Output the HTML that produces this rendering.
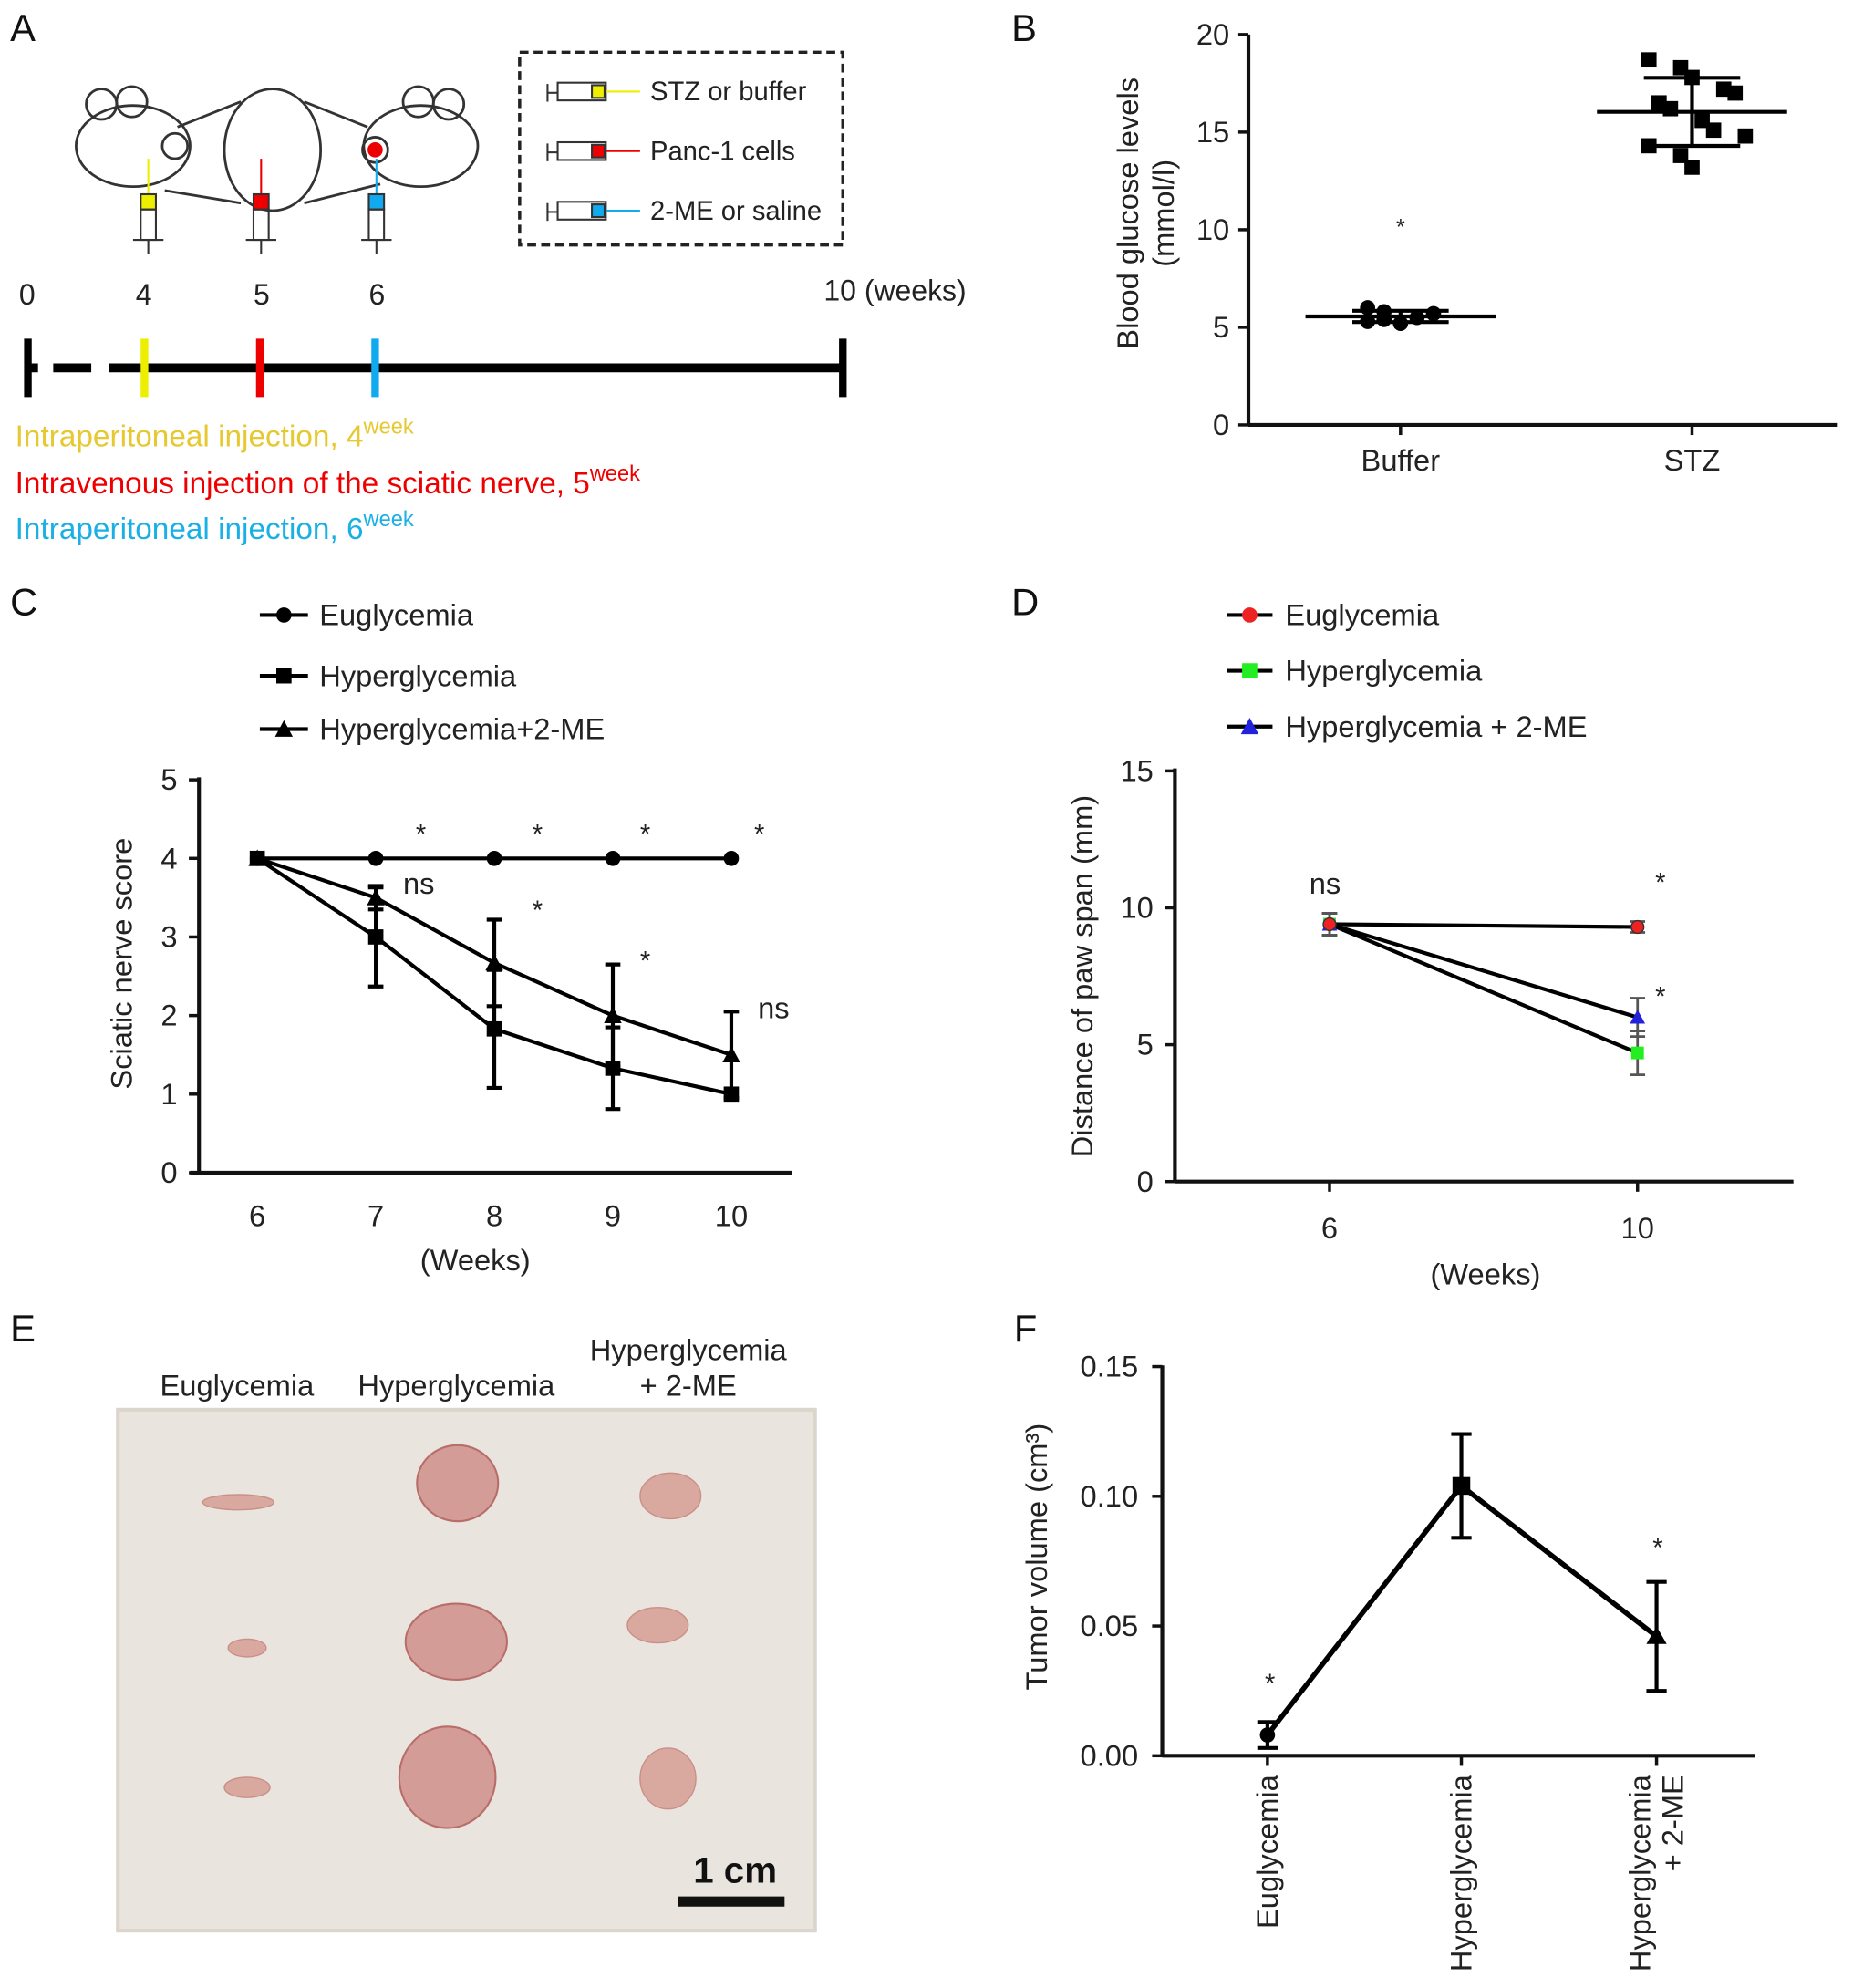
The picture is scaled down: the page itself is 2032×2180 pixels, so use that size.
<!DOCTYPE html>
<html><head><meta charset="utf-8">
<style>
html,body{margin:0;padding:0;background:#fff;}
svg{display:block;font-family:"Liberation Sans",Arial,sans-serif;}
</style></head>
<body>
<svg id="fig" width="2032" height="2180" viewBox="0 0 1462 1568" xmlns="http://www.w3.org/2000/svg">
<rect width="1462" height="1568" fill="#fff"/>
<g font-size="30" fill="#111">
<text x="8" y="32">A</text><text x="798" y="32">B</text>
<text x="8" y="485">C</text><text x="798" y="485">D</text>
<text x="8" y="1058">E</text><text x="800" y="1058">F</text>
</g>

<g stroke="#333" stroke-width="2" fill="none">
 <ellipse cx="105" cy="115" rx="45" ry="32"/><circle cx="80" cy="82" r="12"/><circle cx="104" cy="80" r="12"/>
 <ellipse cx="332" cy="115" rx="45" ry="32"/><circle cx="330" cy="80" r="12"/><circle cx="354" cy="82" r="12"/>
 <ellipse cx="215" cy="118" rx="38" ry="48"/>
 <circle cx="138" cy="115" r="10"/><circle cx="296" cy="118" r="10"/>
 <line x1="140" y1="100" x2="190" y2="80"/><line x1="240" y1="80" x2="290" y2="100"/>
 <line x1="130" y1="150" x2="190" y2="160"/><line x1="240" y1="160" x2="300" y2="145"/>
</g>
<circle cx="296" cy="118" r="6" fill="#e00"/>
<g stroke="#333" stroke-width="1.5">
 <line x1="117" y1="125" x2="117" y2="153" stroke="#ee0"/><rect x="111" y="153" width="12" height="12" fill="#ee0"/><rect x="111" y="165" width="12" height="24" fill="none"/><line x1="105" y1="189" x2="129" y2="189"/><line x1="117" y1="189" x2="117" y2="200"/>
 <line x1="206" y1="125" x2="206" y2="153" stroke="#e00"/><rect x="200" y="153" width="12" height="12" fill="#e00"/><rect x="200" y="165" width="12" height="24" fill="none"/><line x1="194" y1="189" x2="218" y2="189"/><line x1="206" y1="189" x2="206" y2="200"/>
 <line x1="297" y1="125" x2="297" y2="153" stroke="#1ae"/><rect x="291" y="153" width="12" height="12" fill="#1ae"/><rect x="291" y="165" width="12" height="24" fill="none"/><line x1="285" y1="189" x2="309" y2="189"/><line x1="297" y1="189" x2="297" y2="200"/>
</g>
<g>
 <rect x="410" y="41" width="255" height="152" fill="none" stroke="#222" stroke-width="2.5" stroke-dasharray="7,4"/>
 <g stroke="#333" stroke-width="1.5">
  <line x1="432" y1="66" x2="432" y2="80"/><line x1="432" y1="73" x2="440" y2="73"/><rect x="440" y="65" width="38" height="14" fill="none"/><rect x="467" y="67" width="10" height="10" fill="#ee0"/><line x1="478" y1="72" x2="505" y2="72" stroke="#ee0"/>
  <line x1="432" y1="113" x2="432" y2="127"/><line x1="432" y1="120" x2="440" y2="120"/><rect x="440" y="112" width="38" height="14" fill="none"/><rect x="467" y="114" width="10" height="10" fill="#e00"/><line x1="478" y1="119" x2="505" y2="119" stroke="#e00"/>
  <line x1="432" y1="160" x2="432" y2="174"/><line x1="432" y1="167" x2="440" y2="167"/><rect x="440" y="159" width="38" height="14" fill="none"/><rect x="467" y="161" width="10" height="10" fill="#1ae"/><line x1="478" y1="166" x2="505" y2="166" stroke="#1ae"/>
 </g>
 <g font-size="21" fill="#222"><text x="513" y="79">STZ or buffer</text><text x="513" y="126">Panc-1 cells</text><text x="513" y="173">2-ME or saline</text></g>
</g>
<g>
 <g font-size="23" fill="#222"><text x="15" y="240">0</text><text x="107" y="240">4</text><text x="200" y="240">5</text><text x="291" y="240">6</text><text x="650" y="237">10 (weeks)</text></g>
 <line x1="22" y1="290" x2="665" y2="290" stroke="#000" stroke-width="7"/>
 <line x1="30" y1="290" x2="42" y2="290" stroke="#fff" stroke-width="9"/>
 <line x1="72" y1="290" x2="86" y2="290" stroke="#fff" stroke-width="9"/>
 <line x1="22" y1="267" x2="22" y2="313" stroke="#000" stroke-width="6"/>
 <line x1="665" y1="267" x2="665" y2="313" stroke="#000" stroke-width="6"/>
 <line x1="114" y1="267" x2="114" y2="313" stroke="#ee0" stroke-width="6"/>
 <line x1="205" y1="267" x2="205" y2="313" stroke="#e00" stroke-width="6"/>
 <line x1="296" y1="267" x2="296" y2="313" stroke="#1ae" stroke-width="6"/>
 <g font-size="24">
  <text x="12" y="352" fill="#e6c830">Intraperitoneal injection, 4<tspan font-size="17" dy="-10">week</tspan></text>
  <text x="12" y="389" fill="#e00">Intravenous injection of the sciatic nerve, 5<tspan font-size="17" dy="-10">week</tspan></text>
  <text x="12" y="425" fill="#1ab0e6">Intraperitoneal injection, 6<tspan font-size="17" dy="-10">week</tspan></text>
 </g>
</g>

<g id="pb"></g>
<g id="pc"></g>
<g id="pd"></g>
<g id="pf"></g>

<g>
 <g font-size="23.5" fill="#222" text-anchor="middle"><text x="187" y="1101">Euglycemia</text><text x="360" y="1101">Hyperglycemia</text><text x="543" y="1073">Hyperglycemia</text><text x="543" y="1101">+ 2-ME</text></g>
 <rect x="93" y="1112" width="550" height="411" fill="#e9e4dd"/>
 <rect x="93" y="1112" width="550" height="411" fill="none" stroke="#dcd5cc" stroke-width="3"/>
 <g fill="#d9a9a0" stroke="#c98f88" stroke-width="1">
  <ellipse cx="188" cy="1185" rx="28" ry="6"/><ellipse cx="195" cy="1300" rx="15" ry="7"/><ellipse cx="195" cy="1410" rx="18" ry="8"/>
  <ellipse cx="529" cy="1180" rx="24" ry="18"/><ellipse cx="519" cy="1282" rx="24" ry="14"/><ellipse cx="527" cy="1403" rx="22" ry="24"/>
 </g>
 <g fill="#d49c97" stroke="#b86d6a" stroke-width="1.5">
  <ellipse cx="361" cy="1170" rx="32" ry="30"/><ellipse cx="360" cy="1295" rx="40" ry="30"/><ellipse cx="353" cy="1402" rx="38" ry="40"/>
 </g>
 <text x="580" y="1485" font-size="29" font-weight="bold" text-anchor="middle" fill="#111">1 cm</text>
 <line x1="535" y1="1500" x2="619" y2="1500" stroke="#111" stroke-width="8"/>
</g>

<script>
const NS="http://www.w3.org/2000/svg";
function el(p,t,a){const e=document.createElementNS(NS,t);for(const k in a)e.setAttribute(k,a[k]);p.appendChild(e);return e;}
function txt(p,x,y,s,o){const e=el(p,'text',Object.assign({x:x,y:y,'font-size':23.5,fill:'#222'},o||{}));e.textContent=s;return e;}

// ---------- Panel B data ----------
const bCats=["Buffer","STZ"];
const bBuffer=[6.0,5.4,5.2,5.5,5.7,5.3,5.8];
const bSTZ=[18.7,18.3,17.8,17.2,17.0,16.5,16.2,15.6,15.1,14.8,14.3,13.8,13.2];
const bTicks=[0,5,10,15,20];
{
 const g=document.getElementById('pb');
 const y=v=>335-v*15.4, xs=[1105,1335];
 el(g,'line',{x1:985,y1:27,x2:985,y2:335,stroke:'#111','stroke-width':3});
 el(g,'line',{x1:985,y1:335,x2:1450,y2:335,stroke:'#111','stroke-width':3});
 bTicks.forEach(t=>{el(g,'line',{x1:977,y1:y(t),x2:985,y2:y(t),stroke:'#111','stroke-width':2.5});txt(g,970,y(t)+8,String(t),{'text-anchor':'end'});});
 bCats.forEach((c,i)=>{el(g,'line',{x1:xs[i],y1:335,x2:xs[i],y2:343,stroke:'#111','stroke-width':2.5});txt(g,xs[i],371,c,{'text-anchor':'middle'});});
 txt(g,898,168,'Blood glucose levels',{'text-anchor':'middle',transform:'rotate(-90 898 168)'});
 txt(g,926,168,'(mmol/l)',{'text-anchor':'middle',transform:'rotate(-90 926 168)'});
 [bBuffer,bSTZ].forEach((arr,i)=>{
  const m=arr.reduce((a,b)=>a+b)/arr.length;const sd=Math.sqrt(arr.reduce((a,b)=>a+(b-m)*(b-m),0)/(arr.length-1));
  arr.forEach((v,j)=>{const dx=((j%5)-2)*(i===0?13:17);
   const e=i===0?el(g,'circle',{cx:xs[i]+dx,cy:y(v),r:6,fill:'#000'}):el(g,'rect',{x:xs[i]+dx-6+((j%2)*8),y:y(v)-6,width:12,height:12,fill:'#000'});
   
   });
  el(g,'line',{x1:xs[i]-75,y1:y(m),x2:xs[i]+75,y2:y(m),stroke:'#000','stroke-width':3});
  el(g,'line',{x1:xs[i],y1:y(m-sd),x2:xs[i],y2:y(m+sd),stroke:'#000','stroke-width':3});
  el(g,'line',{x1:xs[i]-38,y1:y(m-sd),x2:xs[i]+38,y2:y(m-sd),stroke:'#000','stroke-width':3});
  el(g,'line',{x1:xs[i]-38,y1:y(m+sd),x2:xs[i]+38,y2:y(m+sd),stroke:'#000','stroke-width':3});
 });
 txt(g,1105,185,'*',{'text-anchor':'middle','font-size':18});
}

// ---------- Panel C data ----------
const cWeeks=[6,7,8,9,10];
const cEu=[4,4,4,4,4];
const cHyper=[4,3,1.83,1.33,1.0];
const cHyperErr=[0,0.63,0.75,0.52,0];
const cHME=[4,3.5,2.67,2.0,1.5];
const cHMEErr=[0,0.15,0.55,0.65,0.55];
const cTicks=[0,1,2,3,4,5];
{
 const g=document.getElementById('pc');
 const x=w=>203+(w-6)*93.5, y=v=>925-v*62;
 el(g,'line',{x1:157,y1:613,x2:157,y2:925,stroke:'#111','stroke-width':3});
 el(g,'line',{x1:150,y1:925,x2:625,y2:925,stroke:'#111','stroke-width':3});
 cTicks.forEach(t=>{el(g,'line',{x1:149,y1:y(t),x2:157,y2:y(t),stroke:'#111','stroke-width':2.5});txt(g,140,y(t)+8,String(t),{'text-anchor':'end'});});
 cWeeks.forEach(w=>{txt(g,x(w),967,String(w),{'text-anchor':'middle'});});
 txt(g,375,1002,'(Weeks)',{'text-anchor':'middle'});
 txt(g,104,760,'Sciatic nerve score',{'text-anchor':'middle',transform:'rotate(-90 104 760)'});
 function series(vals,err,shape){
  const pts=vals.map((v,i)=>x(cWeeks[i])+','+y(v)).join(' ');
  el(g,'polyline',{points:pts,fill:'none',stroke:'#000','stroke-width':3});
  vals.forEach((v,i)=>{const cx=x(cWeeks[i]),cy=y(v);
   if(err&&err[i]>0){el(g,'line',{x1:cx,y1:y(v-err[i]),x2:cx,y2:y(v+err[i]),stroke:'#000','stroke-width':3});
    [v-err[i],v+err[i]].forEach(e=>el(g,'line',{x1:cx-6,y1:y(e),x2:cx+6,y2:y(e),stroke:'#000','stroke-width':3}));}
   let m;
   if(shape==='c')m=el(g,'circle',{cx:cx,cy:cy,r:6,fill:'#000'});
   else if(shape==='s')m=el(g,'rect',{x:cx-6,y:cy-6,width:12,height:12,fill:'#000'});
   else m=el(g,'polygon',{points:`${cx},${cy-7} ${cx-7},${cy+6} ${cx+7},${cy+6}`,fill:'#000'});
   
   });
 }
 series(cHME,cHMEErr,'t');series(cHyper,cHyperErr,'s');series(cEu,null,'c');
 [[328,665,'*'],[420,665,'*'],[505,665,'*'],[595,665,'*'],[318,705,'ns'],[420,725,'*'],[505,765,'*'],[598,803,'ns']].forEach(a=>txt(g,a[0],a[1],a[2],{'font-size':a[2]==='*'?21:23.5}));
 const L=[['Euglycemia','c',493],['Hyperglycemia','s',541],['Hyperglycemia+2-ME','t',583]];
 L.forEach(l=>{el(g,'line',{x1:205,y1:l[2]-8,x2:243,y2:l[2]-8,stroke:'#000','stroke-width':3});
  const cx=224,cy=l[2]-8;
  if(l[1]==='c')el(g,'circle',{cx:cx,cy:cy,r:6,fill:'#000'});else if(l[1]==='s')el(g,'rect',{x:cx-6,y:cy-6,width:12,height:12,fill:'#000'});else el(g,'polygon',{points:`${cx},${cy-7} ${cx-7},${cy+6} ${cx+7},${cy+6}`,fill:'#000'});
  txt(g,252,l[2],l[0]);});
}

// ---------- Panel D data ----------
const dWeeks=[6,10];
const dEu=[9.4,9.3];
const dHyper=[9.4,4.7];
const dHyperErr=[0.4,0.8];
const dHME=[9.4,6.0];
const dHMEErr=[0.4,0.7];
const dTicks=[0,5,10,15];
{
 const g=document.getElementById('pd');
 const x=w=>1049+(w-6)*60.75, y=v=>932-v*21.6;
 el(g,'line',{x1:927,y1:606,x2:927,y2:932,stroke:'#111','stroke-width':3});
 el(g,'line',{x1:927,y1:932,x2:1415,y2:932,stroke:'#111','stroke-width':3});
 dTicks.forEach(t=>{el(g,'line',{x1:919,y1:y(t),x2:927,y2:y(t),stroke:'#111','stroke-width':2.5});txt(g,910,y(t)+8,String(t),{'text-anchor':'end'});});
 dWeeks.forEach(w=>{el(g,'line',{x1:x(w),y1:932,x2:x(w),y2:940,stroke:'#111','stroke-width':2.5});txt(g,x(w),977,String(w),{'text-anchor':'middle'});});
 txt(g,1172,1013,'(Weeks)',{'text-anchor':'middle'});
 txt(g,862,770,'Distance of paw span (mm)',{'text-anchor':'middle',transform:'rotate(-90 862 770)'});
 function series(vals,err,shape,col){
  el(g,'polyline',{points:vals.map((v,i)=>x(dWeeks[i])+','+y(v)).join(' '),fill:'none',stroke:'#000','stroke-width':3});
  vals.forEach((v,i)=>{const cx=x(dWeeks[i]),cy=y(v);
   if(err&&err[i]>0){el(g,'line',{x1:cx,y1:y(v-err[i]),x2:cx,y2:y(v+err[i]),stroke:'#555','stroke-width':2});
    [v-err[i],v+err[i]].forEach(e=>el(g,'line',{x1:cx-6,y1:y(e),x2:cx+6,y2:y(e),stroke:'#555','stroke-width':2}));}
   let m;
   if(shape==='c')m=el(g,'circle',{cx:cx,cy:cy,r:5,fill:col,stroke:'#333'});
   else if(shape==='s')m=el(g,'rect',{x:cx-5,y:cy-5,width:10,height:10,fill:col});
   else m=el(g,'polygon',{points:`${cx},${cy-6} ${cx-6},${cy+5} ${cx+6},${cy+5}`,fill:col});
   
   });
 }
 series(dHyper,dHyperErr,'s','#2e2');series(dHME,dHMEErr,'t','#22d');series(dEu,[0.4,0.2],'c','#e22');
 txt(g,1033,705,'ns');txt(g,1306,703,'*',{'font-size':21});txt(g,1306,793,'*',{'font-size':21});
 const L=[['Euglycemia','c',493,'#e22'],['Hyperglycemia','s',537,'#2e2'],['Hyperglycemia + 2-ME','t',581,'#22d']];
 L.forEach(l=>{el(g,'line',{x1:968,y1:l[2]-8,x2:1004,y2:l[2]-8,stroke:'#000','stroke-width':3});
  const cx=986,cy=l[2]-8;
  if(l[1]==='c')el(g,'circle',{cx:cx,cy:cy,r:6,fill:l[3]});else if(l[1]==='s')el(g,'rect',{x:cx-6,y:cy-6,width:12,height:12,fill:l[3]});else el(g,'polygon',{points:`${cx},${cy-7} ${cx-7},${cy+6} ${cx+7},${cy+6}`,fill:l[3]});
  txt(g,1014,l[2],l[0]);});
}

// ---------- Panel F data ----------
const fCats=["Euglycemia","Hyperglycemia","Hyperglycemia\n+ 2-ME"];
const fVals=[0.008,0.104,0.046];
const fErr=[0.005,0.02,0.021];
const fTicks=["0.00","0.05","0.10","0.15"];
{
 const g=document.getElementById('pf');
 const xs=[1000,1153,1307], y=v=>1385-v*2047;
 el(g,'line',{x1:917,y1:1077,x2:917,y2:1385,stroke:'#111','stroke-width':3});
 el(g,'line',{x1:917,y1:1385,x2:1385,y2:1385,stroke:'#111','stroke-width':3});
 fTicks.forEach(t=>{const v=parseFloat(t);el(g,'line',{x1:909,y1:y(v),x2:917,y2:y(v),stroke:'#111','stroke-width':2.5});txt(g,898,y(v)+8,t,{'text-anchor':'end'});});
 fCats.forEach((c,i)=>{el(g,'line',{x1:xs[i],y1:1385,x2:xs[i],y2:1393,stroke:'#111','stroke-width':2.5});
  const parts=c.split('\n');parts.forEach((p,k)=>{const xx=xs[i]+8+k*26-(parts.length-1)*13;txt(g,xx,1400,p,{'text-anchor':'end',transform:`rotate(-90 ${xx} 1400)`});});});
 txt(g,826,1228,'Tumor volume (cm³)',{'text-anchor':'middle',transform:'rotate(-90 826 1228)'});
 el(g,'polyline',{points:fVals.map((v,i)=>xs[i]+','+y(v)).join(' '),fill:'none',stroke:'#000','stroke-width':4});
 fVals.forEach((v,i)=>{const cx=xs[i];
  el(g,'line',{x1:cx,y1:y(v-fErr[i]),x2:cx,y2:y(v+fErr[i]),stroke:'#000','stroke-width':3});
  [v-fErr[i],v+fErr[i]].forEach(e=>el(g,'line',{x1:cx-8,y1:y(e),x2:cx+8,y2:y(e),stroke:'#000','stroke-width':3}));
  let m;
  if(i===0)m=el(g,'circle',{cx:cx,cy:y(v),r:6,fill:'#000'});
  else if(i===1)m=el(g,'rect',{x:cx-7,y:y(v)-7,width:14,height:14,fill:'#000'});
  else m=el(g,'polygon',{points:`${cx},${y(v)-8} ${cx-8},${y(v)+6} ${cx+8},${y(v)+6}`,fill:'#000'});
  
  });
 txt(g,1002,1335,'*',{'text-anchor':'middle','font-size':21});txt(g,1308,1228,'*',{'text-anchor':'middle','font-size':21});
}
</script>
</svg>
</body></html>
